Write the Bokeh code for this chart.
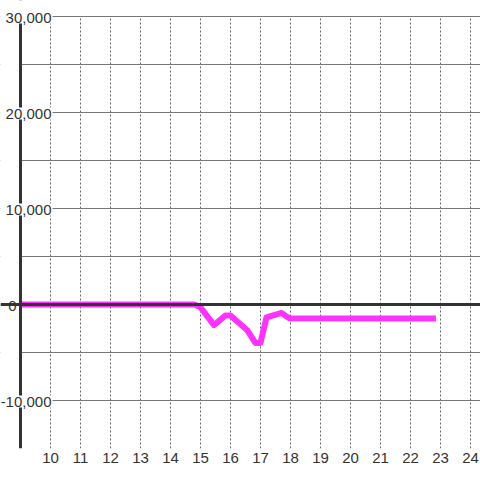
from bokeh.plotting import figure
from bokeh.models import Range1d, FixedTicker, Grid, Span, Label, BoxAnnotation
from bokeh.embed import file_html
from bokeh.resources import INLINE

# ---- data ----
hours = [9.0, 14.8, 15.0, 15.45, 15.83, 16.0, 16.55, 16.83, 17.0, 17.2, 17.7, 17.95, 22.75]
values = [0, 0, -300, -2150, -1150, -1150, -2650, -4000, -4000, -1350, -880, -1420, -1450]
x_ticks = [10, 11, 12, 13, 14, 15, 16, 17, 18, 19, 20, 21, 22, 23, 24]
y_ticks = [30000, 20000, 10000, 0, -10000]
y_tick_labels = ["30,000", "20,000", "10,000", "0", "-10,000"]
y_grid = [-15000, -10000, -5000, 0, 5000, 10000, 15000, 20000, 25000, 30000]

FONT = "Liberation Sans"
TXT = "#333333"
X0 = 9         # value where the vertical axis sits
Y_TOP = 30000  # top of the plotting area
PX_X = 1 / 30        # x units per pixel
PX_Y = 10000 / 96    # y units per pixel

p = figure(width=480, height=480, output_backend="svg", toolbar_location=None,
           title=None,
           x_range=Range1d(X0 - 20 * PX_X, X0 + 460 * PX_X),
           y_range=Range1d(-15000, Y_TOP + 16 * PX_Y),
           y_axis_location=None, min_border_left=0, min_border_top=0,
           min_border_right=0, min_border_bottom=32)
p.outline_line_color = None
p.background_fill_color = "white"
p.border_fill_color = "white"

# x axis
p.xaxis.ticker = FixedTicker(ticks=x_ticks)
p.xaxis.axis_line_color = None
p.xaxis.major_tick_line_color = None
p.xaxis.minor_tick_line_color = None
p.xaxis.major_tick_out = 0
p.xaxis.major_tick_in = 0
p.xaxis.major_label_standoff = 4
p.xaxis.major_label_text_font = FONT
p.xaxis.major_label_text_font_size = "15px"
p.xaxis.major_label_text_color = TXT

p.xgrid.grid_line_color = "#666666"
p.xgrid.grid_line_dash = "2 2"
p.xgrid.grid_line_width = 1

yg = Grid(dimension=1, ticker=FixedTicker(ticks=y_grid),
          grid_line_color="#777777", grid_line_width=1)
p.add_layout(yg)

# blank strip left of the vertical axis
p.add_layout(BoxAnnotation(right=X0, fill_color="white", fill_alpha=1,
                           line_color=None, level="glyph"))

# axis line and zero line
p.add_layout(Span(location=X0, dimension="height", line_color=TXT, line_width=3,
                  level="glyph"))
p.add_layout(Span(location=0, dimension="width", line_color=TXT, line_width=3,
                  level="glyph"))
# blank strip above the top gridline
p.add_layout(BoxAnnotation(bottom=Y_TOP + PX_Y * 0.6, fill_color="white", fill_alpha=1,
                           line_color=None, level="glyph"))

# data line
p.line(hours, values, line_color="#ff33ff", line_width=6, line_join="round",
       line_cap="square")

# y labels
for yv, t in zip(y_ticks, y_tick_labels):
    if yv == 0:
        lab = Label(x=X0, y=yv, text=t, x_offset=-4, y_offset=-1,
                    text_align="right", text_baseline="middle",
                    text_font=FONT, text_font_size="15px", text_color=TXT,
                    level="overlay")
    else:
        lab = Label(x=X0, y=yv, text=t, x_offset=32, y_offset=-1,
                    text_align="right", text_baseline="middle",
                    text_font=FONT, text_font_size="15px", text_color=TXT,
                    background_fill_color="white", padding=1, level="overlay")
    p.add_layout(lab)

open("out.html", "w").write(file_html(p, INLINE))
